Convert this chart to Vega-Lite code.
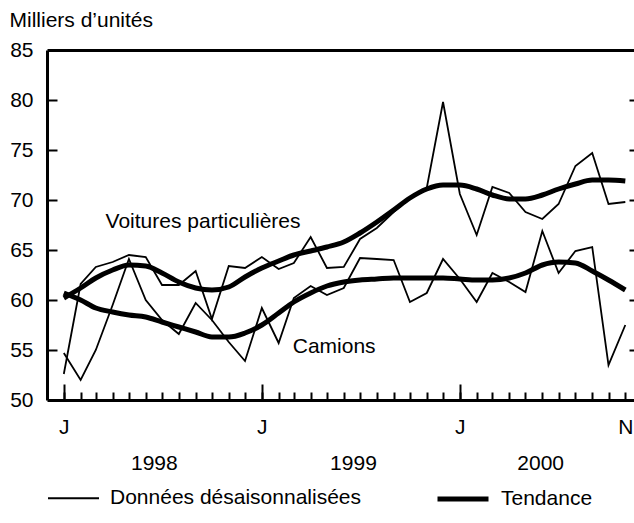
{
  "$schema": "https://vega.github.io/schema/vega-lite/v6.json",
  "width": 587,
  "height": 350,
  "autosize": "none",
  "padding": {"left": 47, "top": 50, "right": 0, "bottom": 123},
  "background": "white",
  "config": {
    "font": "Liberation Sans",
    "view": {"stroke": null},
    "axis": {"grid": false, "labelColor": "black", "tickColor": "black", "domainColor": "black", "titleColor": "black", "labelFontSize": 21, "labelFont": "Liberation Sans", "labelOverlap": false, "labelFlush": false},
    "legend": {"labelColor": "black"}
  },
  "datasets": {
    "series": [
      {"date": "1998-01-01", "serie": "Voitures", "Données désaisonnalisées": 52.6, "Tendance": 60.2},
      {"date": "1998-02-01", "serie": "Voitures", "Données désaisonnalisées": 61.6, "Tendance": 61.2},
      {"date": "1998-03-01", "serie": "Voitures", "Données désaisonnalisées": 63.3, "Tendance": 62.2},
      {"date": "1998-04-01", "serie": "Voitures", "Données désaisonnalisées": 63.8, "Tendance": 63.0},
      {"date": "1998-05-01", "serie": "Voitures", "Données désaisonnalisées": 64.5, "Tendance": 63.5},
      {"date": "1998-06-01", "serie": "Voitures", "Données désaisonnalisées": 64.3, "Tendance": 63.4},
      {"date": "1998-07-01", "serie": "Voitures", "Données désaisonnalisées": 61.5, "Tendance": 62.7},
      {"date": "1998-08-01", "serie": "Voitures", "Données désaisonnalisées": 61.5, "Tendance": 61.8},
      {"date": "1998-09-01", "serie": "Voitures", "Données désaisonnalisées": 62.9, "Tendance": 61.2},
      {"date": "1998-10-01", "serie": "Voitures", "Données désaisonnalisées": 58.1, "Tendance": 61.0},
      {"date": "1998-11-01", "serie": "Voitures", "Données désaisonnalisées": 63.4, "Tendance": 61.3},
      {"date": "1998-12-01", "serie": "Voitures", "Données désaisonnalisées": 63.2, "Tendance": 62.3},
      {"date": "1999-01-01", "serie": "Voitures", "Données désaisonnalisées": 64.3, "Tendance": 63.2},
      {"date": "1999-02-01", "serie": "Voitures", "Données désaisonnalisées": 63.1, "Tendance": 63.9},
      {"date": "1999-03-01", "serie": "Voitures", "Données désaisonnalisées": 63.7, "Tendance": 64.5},
      {"date": "1999-04-01", "serie": "Voitures", "Données désaisonnalisées": 66.3, "Tendance": 64.9},
      {"date": "1999-05-01", "serie": "Voitures", "Données désaisonnalisées": 63.2, "Tendance": 65.3},
      {"date": "1999-06-01", "serie": "Voitures", "Données désaisonnalisées": 63.3, "Tendance": 65.8},
      {"date": "1999-07-01", "serie": "Voitures", "Données désaisonnalisées": 66.1, "Tendance": 66.7},
      {"date": "1999-08-01", "serie": "Voitures", "Données désaisonnalisées": 67.2, "Tendance": 67.8},
      {"date": "1999-09-01", "serie": "Voitures", "Données désaisonnalisées": 68.8, "Tendance": 69.0},
      {"date": "1999-10-01", "serie": "Voitures", "Données désaisonnalisées": 70.2, "Tendance": 70.2},
      {"date": "1999-11-01", "serie": "Voitures", "Données désaisonnalisées": 71.2, "Tendance": 71.1},
      {"date": "1999-12-01", "serie": "Voitures", "Données désaisonnalisées": 79.8, "Tendance": 71.5},
      {"date": "2000-01-01", "serie": "Voitures", "Données désaisonnalisées": 70.6, "Tendance": 71.5},
      {"date": "2000-02-01", "serie": "Voitures", "Données désaisonnalisées": 66.5, "Tendance": 71.1},
      {"date": "2000-03-01", "serie": "Voitures", "Données désaisonnalisées": 71.3, "Tendance": 70.5},
      {"date": "2000-04-01", "serie": "Voitures", "Données désaisonnalisées": 70.7, "Tendance": 70.1},
      {"date": "2000-05-01", "serie": "Voitures", "Données désaisonnalisées": 68.8, "Tendance": 70.1},
      {"date": "2000-06-01", "serie": "Voitures", "Données désaisonnalisées": 68.1, "Tendance": 70.5},
      {"date": "2000-07-01", "serie": "Voitures", "Données désaisonnalisées": 69.6, "Tendance": 71.1},
      {"date": "2000-08-01", "serie": "Voitures", "Données désaisonnalisées": 73.4, "Tendance": 71.6},
      {"date": "2000-09-01", "serie": "Voitures", "Données désaisonnalisées": 74.7, "Tendance": 72.0},
      {"date": "2000-10-01", "serie": "Voitures", "Données désaisonnalisées": 69.6, "Tendance": 72.0},
      {"date": "2000-11-01", "serie": "Voitures", "Données désaisonnalisées": 69.8, "Tendance": 71.9},
      {"date": "1998-01-01", "serie": "Camions", "Données désaisonnalisées": 54.7, "Tendance": 60.7},
      {"date": "1998-02-01", "serie": "Camions", "Données désaisonnalisées": 52.0, "Tendance": 60.0},
      {"date": "1998-03-01", "serie": "Camions", "Données désaisonnalisées": 55.0, "Tendance": 59.2},
      {"date": "1998-04-01", "serie": "Camions", "Données désaisonnalisées": 59.5, "Tendance": 58.8},
      {"date": "1998-05-01", "serie": "Camions", "Données désaisonnalisées": 64.1, "Tendance": 58.5},
      {"date": "1998-06-01", "serie": "Camions", "Données désaisonnalisées": 60.0, "Tendance": 58.3},
      {"date": "1998-07-01", "serie": "Camions", "Données désaisonnalisées": 58.0, "Tendance": 57.8},
      {"date": "1998-08-01", "serie": "Camions", "Données désaisonnalisées": 56.6, "Tendance": 57.3},
      {"date": "1998-09-01", "serie": "Camions", "Données désaisonnalisées": 59.7, "Tendance": 56.8},
      {"date": "1998-10-01", "serie": "Camions", "Données désaisonnalisées": 58.0, "Tendance": 56.3},
      {"date": "1998-11-01", "serie": "Camions", "Données désaisonnalisées": 55.8, "Tendance": 56.3},
      {"date": "1998-12-01", "serie": "Camions", "Données désaisonnalisées": 53.9, "Tendance": 56.7},
      {"date": "1999-01-01", "serie": "Camions", "Données désaisonnalisées": 59.2, "Tendance": 57.5},
      {"date": "1999-02-01", "serie": "Camions", "Données désaisonnalisées": 55.7, "Tendance": 58.7},
      {"date": "1999-03-01", "serie": "Camions", "Données désaisonnalisées": 60.2, "Tendance": 59.8},
      {"date": "1999-04-01", "serie": "Camions", "Données désaisonnalisées": 61.4, "Tendance": 60.7},
      {"date": "1999-05-01", "serie": "Camions", "Données désaisonnalisées": 60.5, "Tendance": 61.4},
      {"date": "1999-06-01", "serie": "Camions", "Données désaisonnalisées": 61.2, "Tendance": 61.8},
      {"date": "1999-07-01", "serie": "Camions", "Données désaisonnalisées": 64.2, "Tendance": 62.0},
      {"date": "1999-08-01", "serie": "Camions", "Données désaisonnalisées": 64.1, "Tendance": 62.1},
      {"date": "1999-09-01", "serie": "Camions", "Données désaisonnalisées": 64.0, "Tendance": 62.2},
      {"date": "1999-10-01", "serie": "Camions", "Données désaisonnalisées": 59.8, "Tendance": 62.2},
      {"date": "1999-11-01", "serie": "Camions", "Données désaisonnalisées": 60.7, "Tendance": 62.2},
      {"date": "1999-12-01", "serie": "Camions", "Données désaisonnalisées": 64.1, "Tendance": 62.2},
      {"date": "2000-01-01", "serie": "Camions", "Données désaisonnalisées": 62.1, "Tendance": 62.1},
      {"date": "2000-02-01", "serie": "Camions", "Données désaisonnalisées": 59.8, "Tendance": 62.0},
      {"date": "2000-03-01", "serie": "Camions", "Données désaisonnalisées": 62.7, "Tendance": 62.0},
      {"date": "2000-04-01", "serie": "Camions", "Données désaisonnalisées": 61.8, "Tendance": 62.2},
      {"date": "2000-05-01", "serie": "Camions", "Données désaisonnalisées": 60.8, "Tendance": 62.7},
      {"date": "2000-06-01", "serie": "Camions", "Données désaisonnalisées": 66.9, "Tendance": 63.5},
      {"date": "2000-07-01", "serie": "Camions", "Données désaisonnalisées": 62.7, "Tendance": 63.8},
      {"date": "2000-08-01", "serie": "Camions", "Données désaisonnalisées": 64.9, "Tendance": 63.7},
      {"date": "2000-09-01", "serie": "Camions", "Données désaisonnalisées": 65.3, "Tendance": 62.9},
      {"date": "2000-10-01", "serie": "Camions", "Données désaisonnalisées": 53.5, "Tendance": 62.0},
      {"date": "2000-11-01", "serie": "Camions", "Données désaisonnalisées": 57.5, "Tendance": 61.0}
    ],
    "labels": [
      {"date": "1998-03-19", "value": 67.8, "label": "Voitures particulières"},
      {"date": "1999-02-27", "value": 55.3, "label": "Camions"}
    ]
  },
  "resolve": {"axis": {"x": "independent", "y": "independent"}},
  "layer": [
    {
      "data": {"name": "series"},
      "transform": [
        {"filter": "datum.serie === 'Voitures'"},
        {"fold": ["Données désaisonnalisées", "Tendance"], "as": ["type", "value"]},
        {"filter": "datum.type === 'Données désaisonnalisées'"}
      ],
      "mark": {"type": "line", "color": "black"},
      "encoding": {
        "x": {
          "field": "date", "type": "temporal",
          "scale": {"type": "utc", "domain": [{"year": 1997, "month": 12, "date": 1, "utc": true}, {"year": 2000, "month": 11, "date": 17, "utc": true}]},
          "axis": {
            "orient": "bottom", "title": null, "ticks": false, "tickSize": 0,
            "values": [{"year": 1998, "month": 1, "date": 1, "utc": true}, {"year": 1999, "month": 1, "date": 1, "utc": true}, {"year": 2000, "month": 1, "date": 1, "utc": true}, {"year": 2000, "month": 11, "date": 1, "utc": true}],
            "labelExpr": "utcmonth(datum.value) == 0 ? 'J' : 'N'",
            "domainWidth": 3,
            "labelPadding": 16
          }
        },
        "y": {
          "field": "value", "type": "quantitative",
          "scale": {"domain": [50, 85], "nice": false, "zero": false},
          "axis": {
            "orient": "left",
            "title": "Milliers d’unités", "titleAngle": 0, "titleAlign": "left", "titleBaseline": "middle",
            "titleX": -38, "titleY": -30, "titleFontSize": 21, "titleFontWeight": "normal", "titleFont": "Liberation Sans",
            "values": [50, 55, 60, 65, 70, 75, 80, 85],
            "ticks": false, "tickSize": 0, "domainWidth": 3, "labelPadding": 14
          }
        },
        "strokeWidth": {
          "field": "type", "type": "nominal",
          "scale": {"domain": ["Données désaisonnalisées", "Tendance"], "range": [1.8, 5]},
          "legend": {
            "orient": "none", "legendX": 0, "legendY": 421, "direction": "horizontal", "title": null,
            "symbolType": "stroke", "symbolSize": 2601, "symbolStrokeColor": "black",
            "labelFontSize": 21, "labelFont": "Liberation Sans", "labelOffset": 10, "columnPadding": 65, "labelLimit": 400
          }
        }
      }
    },
    {
      "data": {"name": "series"},
      "transform": [
        {"filter": "datum.serie === 'Camions'"},
        {"fold": ["Données désaisonnalisées", "Tendance"], "as": ["type", "value"]},
        {"filter": "datum.type === 'Données désaisonnalisées'"}
      ],
      "mark": {"type": "line", "color": "black"},
      "encoding": {
        "x": {
          "field": "date", "type": "temporal",
          "scale": {"type": "utc"},
          "axis": {
            "orient": "bottom", "title": null, "domain": false, "labels": false,
            "offset": -8, "tickSize": 8, "tickWidth": 2,
            "values": [
              {"year": 1998, "month": 1, "date": 1, "utc": true}, {"year": 1998, "month": 2, "date": 1, "utc": true}, {"year": 1998, "month": 3, "date": 1, "utc": true}, {"year": 1998, "month": 4, "date": 1, "utc": true}, {"year": 1998, "month": 5, "date": 1, "utc": true}, {"year": 1998, "month": 6, "date": 1, "utc": true}, {"year": 1998, "month": 7, "date": 1, "utc": true}, {"year": 1998, "month": 8, "date": 1, "utc": true}, {"year": 1998, "month": 9, "date": 1, "utc": true}, {"year": 1998, "month": 10, "date": 1, "utc": true}, {"year": 1998, "month": 11, "date": 1, "utc": true}, {"year": 1998, "month": 12, "date": 1, "utc": true},
              {"year": 1999, "month": 1, "date": 1, "utc": true}, {"year": 1999, "month": 2, "date": 1, "utc": true}, {"year": 1999, "month": 3, "date": 1, "utc": true}, {"year": 1999, "month": 4, "date": 1, "utc": true}, {"year": 1999, "month": 5, "date": 1, "utc": true}, {"year": 1999, "month": 6, "date": 1, "utc": true}, {"year": 1999, "month": 7, "date": 1, "utc": true}, {"year": 1999, "month": 8, "date": 1, "utc": true}, {"year": 1999, "month": 9, "date": 1, "utc": true}, {"year": 1999, "month": 10, "date": 1, "utc": true}, {"year": 1999, "month": 11, "date": 1, "utc": true}, {"year": 1999, "month": 12, "date": 1, "utc": true},
              {"year": 2000, "month": 1, "date": 1, "utc": true}, {"year": 2000, "month": 2, "date": 1, "utc": true}, {"year": 2000, "month": 3, "date": 1, "utc": true}, {"year": 2000, "month": 4, "date": 1, "utc": true}, {"year": 2000, "month": 5, "date": 1, "utc": true}, {"year": 2000, "month": 6, "date": 1, "utc": true}, {"year": 2000, "month": 7, "date": 1, "utc": true}, {"year": 2000, "month": 8, "date": 1, "utc": true}, {"year": 2000, "month": 9, "date": 1, "utc": true}, {"year": 2000, "month": 10, "date": 1, "utc": true}, {"year": 2000, "month": 11, "date": 1, "utc": true}
            ]
          }
        },
        "y": {
          "field": "value", "type": "quantitative",
          "axis": {"orient": "left", "title": null, "labels": false, "domain": false, "offset": -10, "tickSize": 10, "tickWidth": 2, "values": [55, 60, 65, 70, 75, 80]}
        },
        "strokeWidth": {"field": "type", "type": "nominal"}
      }
    },
    {
      "data": {"name": "series"},
      "transform": [
        {"filter": "datum.serie === 'Voitures'"},
        {"fold": ["Données désaisonnalisées", "Tendance"], "as": ["type", "value"]},
        {"filter": "datum.type === 'Tendance'"}
      ],
      "mark": {"type": "line", "color": "black", "interpolate": "monotone"},
      "encoding": {
        "x": {
          "field": "date", "type": "temporal",
          "scale": {"type": "utc"},
          "axis": {"orient": "top", "title": null, "labels": false, "ticks": false, "domainWidth": 3}
        },
        "y": {
          "field": "value", "type": "quantitative",
          "axis": {"orient": "right", "title": null, "labels": false, "domain": false, "offset": -5, "tickSize": 5, "tickWidth": 2, "values": [55, 60, 65, 70, 75, 80]}
        },
        "strokeWidth": {"field": "type", "type": "nominal"}
      }
    },
    {
      "data": {"name": "series"},
      "transform": [
        {"filter": "datum.serie === 'Camions'"},
        {"fold": ["Données désaisonnalisées", "Tendance"], "as": ["type", "value"]},
        {"filter": "datum.type === 'Tendance'"}
      ],
      "mark": {"type": "line", "color": "black", "interpolate": "monotone"},
      "encoding": {
        "x": {
          "field": "date", "type": "temporal",
          "scale": {"type": "utc"},
          "axis": {
            "orient": "bottom", "title": null, "domain": false, "labels": false,
            "offset": -16, "tickSize": 16, "tickWidth": 2,
            "values": [{"year": 1998, "month": 1, "date": 1, "utc": true}, {"year": 1999, "month": 1, "date": 1, "utc": true}, {"year": 2000, "month": 1, "date": 1, "utc": true}]
          }
        },
        "y": {"field": "value", "type": "quantitative", "axis": null},
        "strokeWidth": {"field": "type", "type": "nominal"}
      }
    },
    {
      "data": {"name": "labels"},
      "mark": {"type": "text", "align": "left", "baseline": "middle", "fontSize": 21, "color": "black", "font": "Liberation Sans"},
      "encoding": {
        "x": {
          "field": "date", "type": "temporal",
          "scale": {"type": "utc"},
          "axis": {
            "orient": "bottom", "title": null, "domain": false, "ticks": false, "tickSize": 0, "labelPadding": 52,
            "values": [{"year": 1998, "month": 6, "date": 16, "utc": true}, {"year": 1999, "month": 6, "date": 18, "utc": true}, {"year": 2000, "month": 5, "date": 28, "utc": true}],
            "labelExpr": "'' + utcyear(datum.value)"
          }
        },
        "y": {"field": "value", "type": "quantitative", "axis": null},
        "text": {"field": "label"}
      }
    }
  ]
}
